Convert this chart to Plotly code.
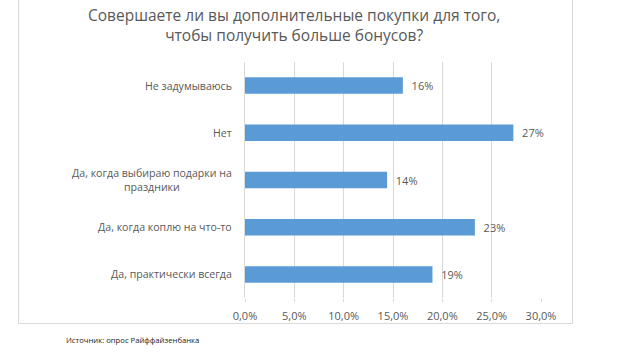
import plotly.graph_objects as go

categories = [
    "Не задумываюсь",
    "Нет",
    "Да, когда выбираю подарки на<br>праздники",
    "Да, когда коплю на что-то",
    "Да, практически всегда",
]
values = [0.160, 0.272, 0.144, 0.233, 0.190]
tick_vals = [0, 0.05, 0.10, 0.15, 0.20, 0.25, 0.30]
title_text = "Совершаете ли вы дополнительные покупки для того,<br>чтобы получить больше бонусов?"
source_text = "Источник: опрос Райффайзенбанка"

W, H = 629, 352
L, R, T, B = 245, 88, 62, 54
pw, ph = W - L - R, H - T - B

def px2paper_x(px):
    return (px - L) / pw

def py2paper_y(py):
    return (H - B - py) / ph

FONT = "Open Sans"
GREY = "#595959"

fig = go.Figure()
fig.add_trace(go.Bar(
    y=categories, x=values, orientation="h",
    marker=dict(color="#5b9bd5", line=dict(width=0)),
    texttemplate="&nbsp;&nbsp;%{x:.0%}", textposition="outside",
    textfont=dict(family=FONT, size=11, color=GREY),
    cliponaxis=False, hoverinfo="skip",
))

annotations = []
for c in categories:
    annotations.append(dict(
        x=px2paper_x(234), xref="paper", y=c, yref="y",
        text=c, showarrow=False, xanchor="right", yanchor="middle",
        align="center", font=dict(family=FONT, size=10.6, color=GREY),
    ))
annotations.append(dict(
    x=px2paper_x(294), xref="paper", y=py2paper_y(2), yref="paper",
    text=title_text, showarrow=False, xanchor="center", yanchor="top",
    align="center", font=dict(family=FONT, size=15.5, color=GREY),
))
annotations.append(dict(
    x=px2paper_x(64), xref="paper", y=py2paper_y(340), yref="paper",
    text=source_text, showarrow=False, xanchor="left", yanchor="middle",
    font=dict(family=FONT, size=7.7, color="#222222"),
))

fig.update_layout(
    width=W, height=H,
    margin=dict(l=L, r=R, t=T, b=B, pad=0),
    paper_bgcolor="white", plot_bgcolor="white",
    separators=", ",
    showlegend=False,
    bargap=0.65,
    annotations=annotations,
    shapes=[dict(
        type="rect", xref="paper", yref="paper",
        x0=px2paper_x(18.5), x1=px2paper_x(572.5),
        y0=py2paper_y(323.5), y1=py2paper_y(-2),
        line=dict(color="#d9d9d9", width=1), fillcolor="rgba(0,0,0,0)",
        layer="below",
    )],
    xaxis=dict(
        range=[0, 0.30], tickvals=tick_vals, tickformat=".1%",
        showgrid=True, gridcolor="#d9d9d9", gridwidth=1,
        zeroline=False, showline=False,
        ticks="outside", ticklen=3, tickcolor="#d9d9d9", tickwidth=1,
        ticklabelstandoff=5,
        tickfont=dict(family=FONT, size=11, color=GREY),
        fixedrange=True,
    ),
    yaxis=dict(
        autorange="reversed", showticklabels=False,
        showgrid=False, zeroline=False,
        showline=True, linecolor="#d9d9d9", linewidth=1,
        ticks="", fixedrange=True,
    ),
)

fig.write_html("out.html", config={"displayModeBar": False})
